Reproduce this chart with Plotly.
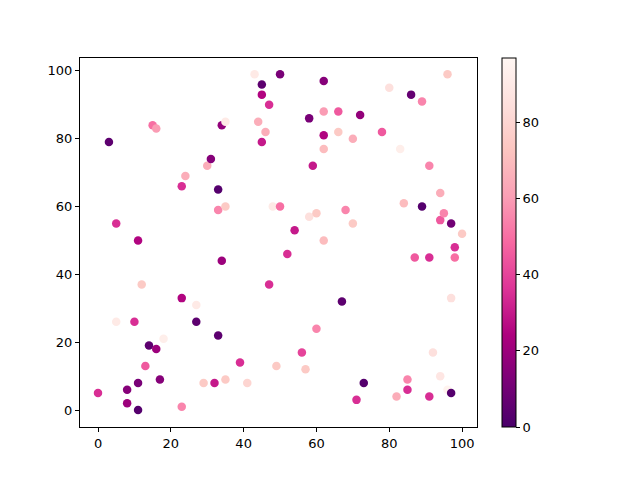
import plotly.graph_objects as go

x_vals = [3, 5, 5, 0, 8, 8, 10, 11, 11, 11, 12, 13, 14, 15, 16, 16, 17, 18, 23, 23,
          24, 23, 27, 27, 29, 30, 31, 32, 33, 33, 33, 34, 34, 35, 35, 35, 39, 41, 43, 44,
          45, 45, 45, 46, 47, 47, 48, 49, 50, 50, 52, 54, 56, 57, 58, 58, 59, 60, 60, 62,
          62, 62, 62, 62, 66, 66, 67, 68, 70, 70, 71, 72, 73, 78, 80, 82, 83, 84, 85, 85,
          86, 87, 89, 89, 91, 91, 91, 92, 94, 94, 95, 94, 96, 96, 97, 97, 97, 98, 98, 100]
y_vals = [79, 55, 26, 5, 6, 2, 26, 50, 8, 0, 37, 13, 19, 84, 83, 18, 9, 21, 66, 33,
          69, 1, 31, 26, 8, 72, 74, 8, 65, 59, 22, 84, 44, 85, 60, 9, 14, 8, 99, 85,
          96, 93, 79, 82, 90, 37, 60, 13, 99, 60, 46, 53, 17, 12, 86, 57, 72, 58, 24, 97,
          88, 81, 77, 50, 88, 82, 32, 59, 80, 55, 3, 87, 8, 82, 95, 4, 77, 61, 9, 6,
          93, 45, 91, 60, 72, 45, 4, 17, 64, 56, 58, 10, 99, 6, 55, 33, 5, 48, 45, 52]
c_vals = [5, 35, 90, 35, 15, 20, 35, 25, 12, 3, 75, 45, 5, 50, 60, 20, 15, 92, 35, 25,
          65, 55, 90, 5, 75, 65, 15, 30, 3, 55, 5, 18, 20, 90, 75, 75, 35, 80, 90, 65,
          5, 25, 30, 65, 35, 35, 90, 75, 12, 50, 35, 30, 40, 75, 12, 85, 30, 75, 55, 15,
          60, 25, 70, 70, 45, 75, 5, 55, 65, 75, 35, 18, 3, 45, 85, 65, 92, 70, 55, 35,
          7, 45, 55, 3, 55, 35, 35, 85, 65, 45, 55, 88, 75, 95, 10, 85, 3, 35, 50, 75]

fig = go.Figure()
fig.add_trace(go.Scatter(
    x=x_vals, y=y_vals, mode="markers",
    marker=dict(size=8.5, color=c_vals, colorscale="RdPu_r", cmin=0, cmax=97,
                line=dict(width=0),
                colorbar=dict(x=1.063, xanchor="left", y=0, yanchor="bottom",
                              len=1, lenmode="fraction", thickness=14,
                              xpad=0, ypad=0,
                              outlinewidth=1, outlinecolor="black",
                              tickvals=[0, 20, 40, 60, 80], ticks="outside",
                              ticklen=4, tickcolor="black",
                              tickfont=dict(size=13, color="black"))),
    showlegend=False))

axis_style = dict(showgrid=False, zeroline=False, showline=True, linecolor="black",
                  linewidth=1, mirror=True, ticks="outside", ticklen=4,
                  tickcolor="black", tickfont=dict(size=13, color="black"))
fig.update_xaxes(range=[-4.95, 104.1], tickvals=[0, 20, 40, 60, 80, 100], **axis_style)
fig.update_yaxes(range=[-5.0, 103.8], tickvals=[0, 20, 40, 60, 80, 100], **axis_style)

# the page body adds an 8px offset, so the margins are shifted to compensate
fig.update_layout(width=640, height=480, plot_bgcolor="white", paper_bgcolor="white",
                  margin=dict(l=72, r=171, t=50, b=61, autoexpand=False),
                  font=dict(family="DejaVu Sans", color="black"))
fig.write_html("out.html")
